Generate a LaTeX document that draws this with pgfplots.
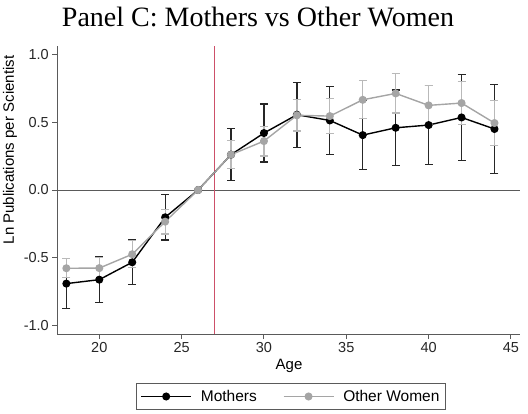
\documentclass[border=0pt]{standalone}
\usepackage{fontspec}
\setmainfont{Liberation Sans}
\newfontfamily\titlefont{Liberation Serif}
\usepackage{pgfplots}
\pgfplotsset{compat=1.18}

\definecolor{cutred}{RGB}{205,80,105}
\definecolor{othergray}{RGB}{165,165,165}
\definecolor{othergraybar}{RGB}{185,185,185}
\definecolor{axisgray}{RGB}{90,90,90}

\begin{document}
\begin{tikzpicture}
\useasboundingbox (0,0) rectangle (528pt,413pt);
\node[anchor=base, font=\titlefont\fontsize{28}{28}\selectfont] at (258pt,386pt) {Panel C: Mothers vs Other Women};
\begin{axis}[
  at={(57.3pt,79pt)}, anchor=south west,
  scale only axis, width=462.7pt, height=288pt,
  xmin=17.45, xmax=45.55, ymin=-1.06, ymax=1.06,
  axis x line*=bottom, axis y line*=left,
  axis line style={-, draw=axisgray, line width=1pt},
  tick align=outside, major tick length=5pt,
  tick style={draw=axisgray, line width=1pt},
  xtick={20,25,30,35,40,45}, xticklabels={20,25,30,35,40,45},
  ytick={-1,-0.5,0,0.5,1}, yticklabels={-1.0,-0.5,0.0,0.5,1.0},
  ticklabel style={font=\fontsize{14.5}{14.5}\selectfont, text=black!85},
  clip=false,
  legend style={at={(0.505,-0.217)}, anchor=center, legend columns=2,
    draw=axisgray, line width=0.8pt, font=\fontsize{15.5}{15.5}\selectfont,
    inner xsep=4pt, inner ysep=5pt,
    /tikz/every odd column/.append style={column sep=7pt},
    /tikz/every even column/.append style={column sep=24pt}},
  legend image code/.code={\draw[mark repeat=2, mark phase=2, #1] plot coordinates {(0pt,0pt)(25pt,0pt)(50pt,0pt)};},
]
\addplot[axisgray, line width=1pt, forget plot] coordinates {(17.45,0)(45.55,0)};
\addplot[cutred, line width=1.3pt, forget plot] coordinates {(27,-1.06)(27,1.06)};

% Mothers
\addplot[black, line width=1.4pt, mark=*, mark size=3.3pt,
  error bars/.cd, y dir=both, y explicit,
  error bar style={line width=1.3pt, black!85},
  error mark options={rotate=90, mark size=4pt, line width=1.3pt, black!85}]
coordinates {
(18,-0.689) +- (0,0.183)
(20,-0.660) +- (0,0.170)
(22,-0.532) +- (0,0.165)
(24,-0.201) +- (0,0.166)
(26,0.000) +- (0,0.000)
(28,0.260) +- (0,0.191)
(30,0.419) +- (0,0.213)
(32,0.554) +- (0,0.239)
(34,0.512) +- (0,0.250)
(36,0.404) +- (0,0.255)
(38,0.458) +- (0,0.279)
(40,0.478) +- (0,0.290)
(42,0.534) +- (0,0.316)
(44,0.449) +- (0,0.330)
};
\addlegendentry{Mothers}

% Other Women
\addplot[othergray, line width=1.4pt, mark=*, mark size=3.3pt,
  error bars/.cd, y dir=both, y explicit,
  error bar style={line width=1.3pt, othergraybar},
  error mark options={rotate=90, mark size=4pt, line width=1.3pt, othergraybar}]
coordinates {
(18,-0.576) +- (0,0.070)
(20,-0.575) +- (0,0.080)
(22,-0.473) +- (0,0.100)
(24,-0.233) +- (0,0.090)
(26,0.000) +- (0,0.000)
(28,0.260) +- (0,0.103)
(30,0.360) +- (0,0.110)
(32,0.550) +- (0,0.116)
(34,0.544) +- (0,0.130)
(36,0.664) +- (0,0.140)
(38,0.711) +- (0,0.145)
(40,0.623) +- (0,0.145)
(42,0.640) +- (0,0.160)
(44,0.493) +- (0,0.167)
};
\addlegendentry{Other Women}
\end{axis}
\node[font=\fontsize{15}{15}\selectfont] at (289pt,47pt) {Age};
\node[rotate=90, font=\fontsize{15}{15}\selectfont] at (10pt,263pt) {Ln Publications per Scientist};
\end{tikzpicture}
\end{document}
